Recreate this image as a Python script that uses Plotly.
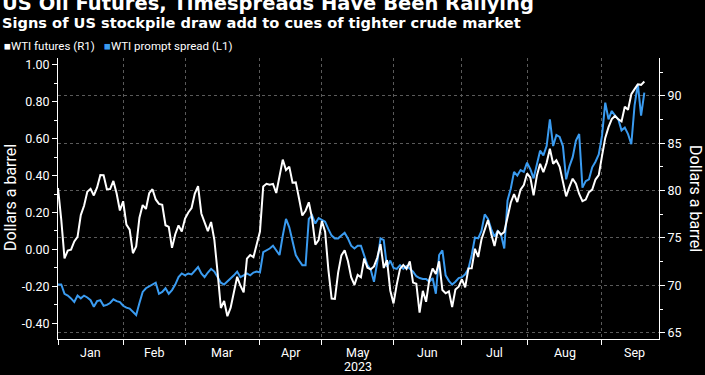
import pandas as pd
import plotly.graph_objects as go

# ---------------- data ----------------
holidays = ["2023-01-02", "2023-01-16", "2023-02-20", "2023-04-07",
            "2023-05-29", "2023-06-19", "2023-07-04", "2023-09-04"]
trading_days = pd.bdate_range("2022-12-30", "2023-09-29", freq="C", holidays=holidays)

month_names = ["Jan", "Feb", "Mar", "Apr", "May", "Jun", "Jul", "Aug", "Sep"]
year_label = "2023"

# WTI futures, $/bbl (right axis), one value per trading day from 2022-12-30
wti_futures = [
    80.26, 76.93, 72.84, 73.67, 73.77, 74.63, 75.12, 77.41, 78.39, 79.86,
    80.18, 79.48, 80.33, 81.64, 81.62, 80.13, 80.15, 81.01, 79.68, 77.90,
    78.87, 76.41, 75.88, 73.39, 74.11, 77.14, 78.47, 78.06, 79.72, 80.14,
    79.06, 78.59, 78.49, 76.34, 76.16, 73.95, 75.39, 76.32, 75.68, 77.05,
    77.69, 78.16, 79.68, 80.46, 77.58, 76.66, 75.72, 76.68, 74.80, 71.33,
    67.61, 68.35, 66.74, 67.64, 69.33, 70.90, 69.96, 69.26, 72.81, 73.20,
    72.97, 74.37, 75.67, 80.42, 80.71, 80.61, 80.70, 79.74, 81.53, 83.26,
    82.16, 82.52, 80.83, 80.86, 79.16, 77.37, 77.87, 78.76, 77.07, 74.30,
    74.76, 76.78, 75.66, 71.66, 68.60, 68.56, 71.34, 73.16, 73.71, 72.56,
    70.87, 70.04, 71.11, 70.86, 72.83, 71.86, 71.69, 71.99, 72.91, 74.34,
    71.83, 72.67, 69.46, 68.09, 70.10, 71.74, 72.15, 71.74, 72.53, 70.29,
    70.17, 67.12, 69.42, 68.27, 70.62, 71.78, 71.19, 72.53, 69.51, 69.16,
    69.37, 67.70, 69.56, 69.86, 70.64, 69.79, 71.79, 71.80, 73.86, 72.99,
    74.83, 75.75, 76.89, 75.42, 74.15, 75.75, 75.35, 75.63, 77.07, 78.74,
    79.63, 78.78, 80.09, 80.58, 81.80, 81.37, 79.49, 81.55, 82.82, 81.94,
    82.92, 84.40, 82.82, 83.19, 82.51, 80.99, 79.38, 80.39, 81.25, 80.72,
    79.64, 78.89, 79.05, 79.83, 80.10, 81.16, 81.63, 83.63, 85.55, 86.69,
    87.54, 87.87, 87.51, 87.29, 88.84, 88.52, 90.16, 90.70, 91.20, 91.15,
    91.50,
]

# WTI prompt spread, $/bbl (left axis)
wti_prompt_spread = [
    -0.19, -0.19, -0.24, -0.25, -0.265, -0.285, -0.25, -0.265, -0.25, -0.26,
    -0.275, -0.31, -0.28, -0.275, -0.305, -0.30, -0.29, -0.27, -0.28, -0.285,
    -0.305, -0.315, -0.32, -0.34, -0.355, -0.29, -0.23, -0.21, -0.20, -0.19,
    -0.18, -0.24, -0.23, -0.21, -0.24, -0.22, -0.19, -0.15, -0.13, -0.14,
    -0.13, -0.135, -0.115, -0.095, -0.13, -0.15, -0.125, -0.105, -0.12, -0.15,
    -0.18, -0.19, -0.175, -0.16, -0.14, -0.12, -0.15, -0.14, -0.13, -0.14,
    -0.125, -0.12, -0.125, -0.015, -0.005, 0.005, 0.02, -0.005, -0.03, 0.075,
    0.165, 0.12, 0.04, -0.03, -0.06, -0.085, -0.085, 0.165, 0.185, 0.14,
    0.17, 0.16, 0.15, 0.11, 0.075, 0.06, 0.06, 0.075, 0.09, 0.06,
    0.02, 0.005, 0.02, 0.02, -0.03, -0.085, -0.11, -0.175, -0.07, 0.06,
    0.05, -0.095, -0.06, -0.10, -0.105, -0.085, -0.105, -0.09, -0.105, -0.12,
    -0.145, -0.155, -0.16, -0.16, -0.175, -0.155, -0.24, -0.03, -0.005, -0.14,
    -0.17, -0.19, -0.175, -0.155, -0.15, -0.135, -0.105, -0.03, 0.065, 0.06,
    0.10, 0.19, 0.165, 0.11, 0.07, 0.10, 0.08, 0.005, 0.265, 0.33,
    0.42, 0.40, 0.43, 0.42, 0.47, 0.435, 0.385, 0.46, 0.535, 0.51,
    0.56, 0.705, 0.56, 0.62, 0.61, 0.56, 0.38, 0.45, 0.50, 0.59,
    0.625, 0.335, 0.37, 0.38, 0.445, 0.475, 0.515, 0.615, 0.795, 0.705,
    0.75, 0.725, 0.705, 0.645, 0.66, 0.625, 0.57, 0.78, 0.895, 0.725,
    0.85,
]

left_ticks = [-0.4, -0.2, 0.0, 0.2, 0.4, 0.6, 0.8, 1.0]
left_ticktext = ["-0.40", "-0.20", "0.00", "0.20", "0.40", "0.60", "0.80", "1.00"]
right_ticks = [65, 70, 75, 80, 85, 90]

title = "US Oil Futures, Timespreads Have Been Rallying"
subtitle = "Signs of US stockpile draw add to cues of tighter crude market"
axis_title = "Dollars a barrel"

# ---------------- derived positions (calendar) ----------------
pos = pd.Series(range(len(trading_days)), index=trading_days)
month_end_idx = pos.groupby([trading_days.year, trading_days.month]).max().tolist()  # Dec-22 .. Sep-23
label_pos = [(month_end_idx[i] + month_end_idx[i + 1]) / 2 for i in range(len(month_names))]

x_fut = pos.iloc[:len(wti_futures)].tolist()
x_spr = pos.iloc[:len(wti_prompt_spread)].tolist()

# ---------------- layout geometry ----------------
W, H = 705, 375
L, R, T, B = 58, 659, 58, 339


def fx(px):
    return (px - L) / (R - L)


def fy(py):
    return (B - py) / (B - T)


WHITE = "#ffffff"
BLUE = "#3a9bf0"
GRID = "#5a5a5a"
TICKFONT = dict(family="Roboto", size=12.5, color=WHITE)

fig = go.Figure()
fig.add_trace(go.Scatter(x=x_spr, y=wti_prompt_spread, mode="lines",
                         line=dict(color=BLUE, width=2), name="WTI prompt spread (L1)",
                         yaxis="y"))
fig.add_trace(go.Scatter(x=x_fut, y=wti_futures, mode="lines",
                         line=dict(color=WHITE, width=2), name="WTI futures (R1)",
                         yaxis="y2"))

annotations = []
# title / subtitle
annotations.append(dict(text="<b>" + title + "</b>", x=fx(0), y=fy(17), xref="paper", yref="paper",
                        xanchor="left", yanchor="bottom", showarrow=False,
                        font=dict(family="DejaVu Sans", size=19.5, color=WHITE)))
annotations.append(dict(text="<b>" + subtitle + "</b>", x=fx(0), y=fy(33), xref="paper", yref="paper",
                        xanchor="left", yanchor="bottom", showarrow=False,
                        font=dict(family="DejaVu Sans", size=14.6, color=WHITE)))
# legend
annotations.append(dict(text='<span style="color:%s">■</span>WTI futures (R1)' % WHITE,
                        x=fx(2), y=fy(46), xref="paper", yref="paper", xanchor="left", yanchor="middle",
                        showarrow=False, font=dict(family="Roboto", size=11.5, color=WHITE)))
annotations.append(dict(text='<span style="color:%s">■</span>WTI prompt spread (L1)' % BLUE,
                        x=fx(102), y=fy(46), xref="paper", yref="paper", xanchor="left", yanchor="middle",
                        showarrow=False, font=dict(family="Roboto", size=11.5, color=WHITE)))
# axis titles
annotations.append(dict(text=axis_title, x=fx(10), y=fy(198), xref="paper", yref="paper",
                        textangle=-90, showarrow=False, xanchor="center", yanchor="middle",
                        font=dict(family="Roboto", size=16, color=WHITE)))
annotations.append(dict(text=axis_title, x=fx(696), y=fy(198), xref="paper", yref="paper",
                        textangle=90, showarrow=False, xanchor="center", yanchor="middle",
                        font=dict(family="Roboto", size=16, color=WHITE)))
# month labels
for name, xp in zip(month_names, label_pos):
    annotations.append(dict(text=name, x=xp, y=fy(352), xref="x", yref="paper",
                            showarrow=False, xanchor="center", yanchor="middle", font=TICKFONT))
annotations.append(dict(text=year_label, x=label_pos[month_names.index("May")], y=fy(366),
                        xref="x", yref="paper", showarrow=False, xanchor="center", yanchor="middle",
                        font=TICKFONT))
# footer (cut off at bottom edge, as in the reference)
annotations.append(dict(text="Source: Bloomberg", x=fx(1), y=fy(381), xref="paper", yref="paper",
                        showarrow=False, xanchor="left", yanchor="middle",
                        font=dict(family="Roboto", size=13, color=WHITE)))
annotations.append(dict(text="<b>Bloomberg ■</b>", x=fx(702), y=fy(381), xref="paper", yref="paper",
                        showarrow=False, xanchor="right", yanchor="middle",
                        font=dict(family="Roboto", size=14, color=WHITE)))

fig.update_layout(
    width=W, height=H,
    margin=dict(l=L, r=W - R, t=T, b=H - B, pad=0),
    paper_bgcolor="#000000", plot_bgcolor="#000000",
    showlegend=False,
    annotations=annotations,
    xaxis=dict(range=[0, 184.5], tickmode="array", tickvals=month_end_idx,
               ticktext=["" for _ in month_end_idx], ticks="outside", ticklen=5,
               tickcolor=WHITE, showline=True, linecolor=WHITE, linewidth=1,
               showgrid=True, gridcolor=GRID, griddash="dot", gridwidth=1,
               zeroline=False),
    yaxis=dict(range=[-0.485, 1.037], tickmode="array", tickvals=left_ticks, ticktext=left_ticktext,
               ticks="outside", ticklen=5, tickcolor=WHITE, showline=True, linecolor=WHITE,
               linewidth=1, showgrid=False, zeroline=False, tickfont=TICKFONT,
               minor=dict(dtick=0.1, tick0=0, ticks="outside", ticklen=3, tickcolor=WHITE)),
    yaxis2=dict(range=[64.34, 93.98], overlaying="y", side="right", tickmode="array",
                tickvals=right_ticks, ticks="outside", ticklen=5, tickcolor=WHITE,
                showline=True, linecolor=WHITE, linewidth=1, showgrid=True, gridcolor=GRID,
                griddash="dot", gridwidth=1, zeroline=False, tickfont=TICKFONT,
                minor=dict(dtick=2.5, tick0=65, ticks="outside", ticklen=3, tickcolor=WHITE)),
)

fig.write_html("out.html",
               config={"displayModeBar": False},
               post_script="document.body.style.margin='0';document.body.style.background='#000';")
